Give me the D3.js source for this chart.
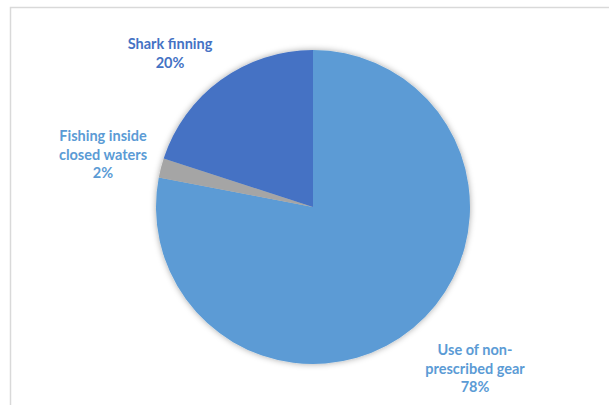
<!DOCTYPE html>
<html>
<head>
<meta charset="utf-8">
<script src="https://cdn.jsdelivr.net/npm/d3@7"></script>
<style>
  body { margin: 0; background: #fff; }
  svg { display: block; }
</style>
</head>
<body>
<svg width="609" height="405"></svg>
<script>
// slices, clockwise from 12 o'clock
var categories = ["Use of non-prescribed gear", "Fishing inside closed waters", "Shark finning"];
var values = [78, 2, 20];
var colors = ["#5B9BD5", "#A5A5A5", "#4472C4"];
var labelColors = ["#5B9BD5", "#5B9BD5", "#4472C4"];
// label lines as broken in the picture
var labelLines = [["Use of non-", "prescribed gear", "78%"], ["Fishing inside", "closed waters", "2%"], ["Shark finning", "20%"]];
var labelPos = [[475, 350], [103, 136], [170, 44]];

var svg = d3.select("svg");

// chart area border
svg.append("path")
    .attr("d", "M10.5,405 V7.5 H609")
    .attr("fill", "none")
    .attr("stroke", "#d9d9d9")
    .attr("stroke-width", 1.5);

var defs = svg.append("defs");
var f = defs.append("filter").attr("id", "shadow")
    .attr("x", "-20%").attr("y", "-20%").attr("width", "140%").attr("height", "140%");
f.append("feDropShadow")
    .attr("dx", 0).attr("dy", 0).attr("stdDeviation", 3)
    .attr("flood-color", "#000").attr("flood-opacity", 0.35);

var cx = 313, cy = 207, r = 157;

var pie = d3.pie().sort(null).value(function(d) { return d; });
var arc = d3.arc().innerRadius(0).outerRadius(r);

var g = svg.append("g")
    .attr("transform", "translate(" + cx + "," + cy + ")")
    .attr("filter", "url(#shadow)");

g.selectAll("path")
    .data(pie(values))
    .enter().append("path")
    .attr("d", arc)
    .attr("fill", function(d, i) { return colors[i]; });

var labels = svg.selectAll(".lbl")
    .data(categories)
    .enter().append("text")
    .attr("class", "lbl")
    .attr("text-anchor", "middle")
    .attr("font-family", "Lato, 'Open Sans', sans-serif")
    .attr("font-weight", "bold")
    .attr("font-size", 14.5)
    .attr("fill", function(d, i) { return labelColors[i]; })
    .attr("transform", function(d, i) { return "translate(" + labelPos[i][0] + "," + labelPos[i][1] + ")"; });

labels.selectAll("tspan")
    .data(function(d, i) { return labelLines[i]; })
    .enter().append("tspan")
    .attr("x", 0)
    .attr("y", function(d, j) { return j * 18.5; })
    .attr("dy", "0.35em")
    .text(function(d) { return d; });
</script>
</body>
</html>
